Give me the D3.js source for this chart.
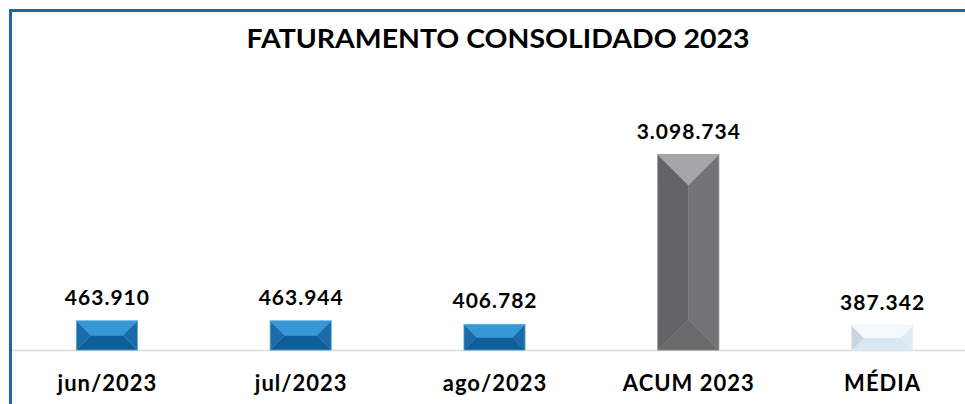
<!DOCTYPE html>
<html><head><meta charset="utf-8">
<script src="https://cdn.jsdelivr.net/npm/d3@7"></script>
<style>
html,body{margin:0;padding:0;background:#fff;}
svg{display:block;}
text{font-family:"Lato","Noto Sans",sans-serif;font-weight:bold;fill:#000;}
</style></head>
<body><svg id="c" width="965" height="404"></svg>
<script>
const title = "FATURAMENTO CONSOLIDADO 2023";
const categories = ["jun/2023","jul/2023","ago/2023","ACUM 2023","MÉDIA"];
const values = [463910, 463944, 406782, 3098734, 387342];
const valueLabels = ["463.910","463.944","406.782","3.098.734","387.342"];
const palettes = ["blue","blue","blue","gray","light"];

const faces = {
  blue:  {top:"#3597d6", left:"#1b6ba9", right:"#1b6ba9", bottom:"#0d5f9a", edge:"#6fb6e2"},
  gray:  {top:"#a6a6a8", left:"#646466", right:"#747476", bottom:"#6a6a6c", edge:"#8a8a8c"},
  light: {top:"#f7fafd", left:"#c8d5e2", right:"#e2ecf7", bottom:"#d9e6f3", edge:"#e6eef7"}
};

const svg = d3.select("#c");
const W = 965, H = 404;
const baseY = 350;
const x = d3.scaleBand().domain(categories).range([10, 979]).paddingInner(0.685).paddingOuter(0.3425);
const y = d3.scaleLinear().domain([0, 3098734]).range([baseY, 154.5]);

// frame
svg.append("line").attr("x1",10.5).attr("x2",W).attr("y1",10.5).attr("y2",10.5)
  .attr("stroke","#1a66a6").attr("stroke-width",3);
svg.append("line").attr("x1",10.5).attr("x2",10.5).attr("y1",9).attr("y2",H)
  .attr("stroke","#1a66a6").attr("stroke-width",3);

// title
svg.append("text").attr("x",498).attr("y",48).attr("text-anchor","middle")
  .attr("font-size",27).attr("textLength",503).attr("lengthAdjust","spacingAndGlyphs").text(title);

// axis baseline
svg.append("line").attr("x1",12).attr("x2",W).attr("y1",baseY+0.5).attr("y2",baseY+0.5)
  .attr("stroke","#d9d9d9").attr("stroke-width",1.5);

const data = categories.map((c,i)=>({c, v:values[i], lab:valueLabels[i], p:palettes[i]}));

const g = svg.selectAll("g.bar").data(data).enter().append("g").attr("class","bar");
g.each(function(d){
  const x0 = x(d.c), x1 = x0 + x.bandwidth();
  const y0 = y(d.v), y1 = y(0);
  const b = Math.min(x1-x0, y1-y0)/2;
  const ix0 = x0+b, ix1 = x1-b, iy0 = y0+b, iy1 = y1-b;
  const f = faces[d.p];
  const sel = d3.select(this);
  const poly = (pts, col) => sel.append("polygon").attr("points", pts.map(p=>p.join(",")).join(" ")).attr("fill", col).attr("stroke", col).attr("stroke-width",0.4);
  poly([[x0,y1],[x1,y1],[ix1,iy1],[ix0,iy1]], f.bottom);
  poly([[x0,y0],[x0,y1],[ix0,iy1],[ix0,iy0]], f.left);
  poly([[x1,y0],[x1,y1],[ix1,iy1],[ix1,iy0]], f.right);
  poly([[x0,y0],[x1,y0],[ix1,iy0],[ix0,iy0]], f.top);
  sel.append("rect").attr("x",x0).attr("y",y0).attr("width",x1-x0).attr("height",y1-y0)
    .attr("fill","none").attr("stroke",f.edge).attr("stroke-width",0.8).attr("stroke-opacity",0.7);
});

// value labels
svg.selectAll("text.val").data(data).enter().append("text").attr("class","val")
  .attr("x", d=>x(d.c)+x.bandwidth()/2+0.5).attr("y", d=>y(d.v)-16)
  .attr("text-anchor","middle").attr("font-size",21).attr("letter-spacing",1).text(d=>d.lab);

// category labels
svg.selectAll("text.cat").data(data).enter().append("text").attr("class","cat")
  .attr("x", d=>x(d.c)+x.bandwidth()/2+0.5).attr("y", 391)
  .attr("text-anchor","middle").attr("font-size",22).attr("letter-spacing",1).text(d=>d.c);
</script></body></html>
